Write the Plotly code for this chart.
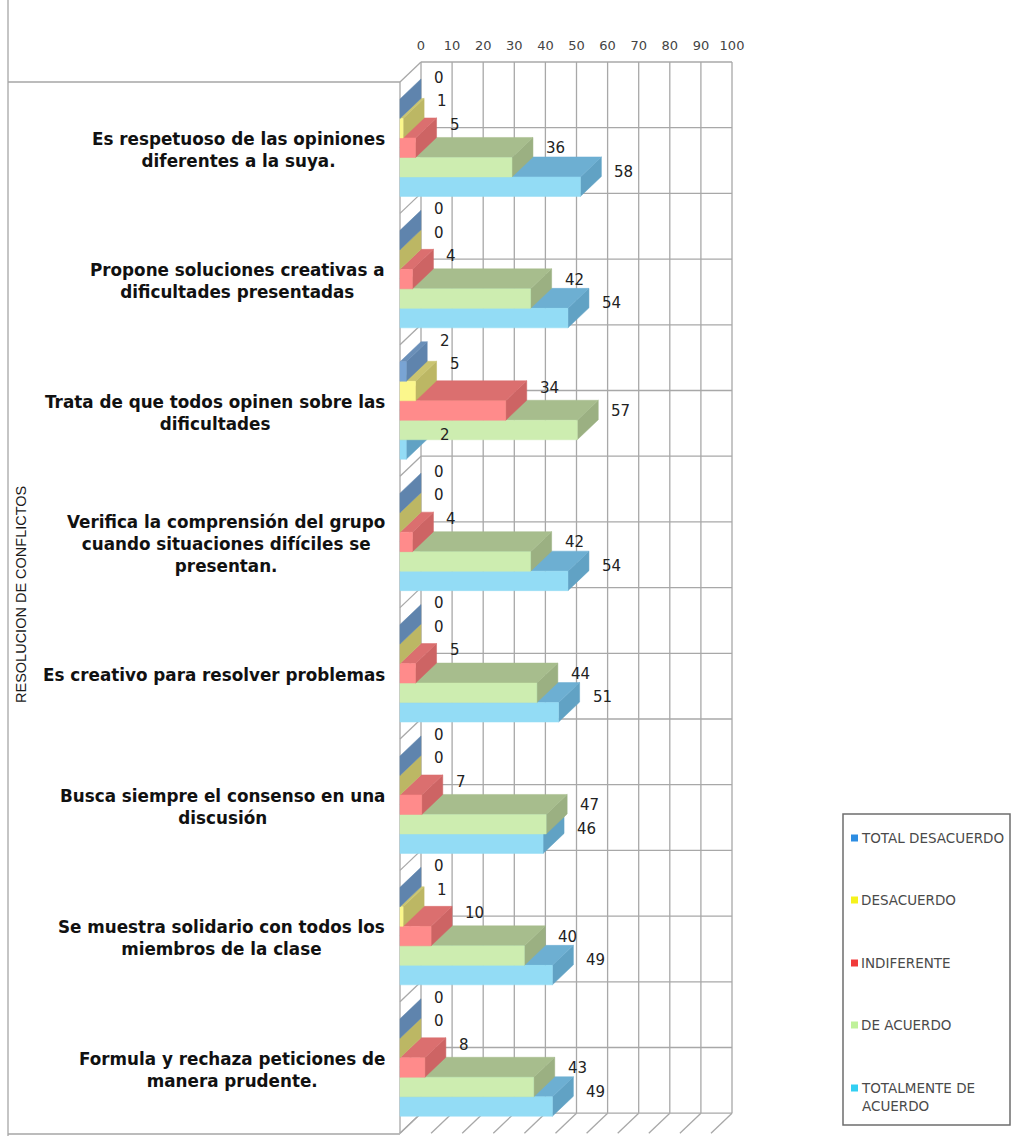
import textwrap
import plotly.graph_objects as go

# ---- data -------------------------------------------------------------
categories = [
    "Es respetuoso de las opiniones<br>diferentes a la suya.",
    "Propone soluciones creativas a<br>dificultades presentadas",
    "Trata de que todos opinen sobre las<br>dificultades",
    "Verifica la comprensión del grupo<br>cuando situaciones difíciles se<br>presentan.",
    "Es creativo para resolver problemas",
    "Busca siempre el consenso en una<br>discusión",
    "Se muestra solidario con todos los<br>miembros de la clase",
    "Formula y rechaza peticiones de<br>manera prudente.",
]
series_names = ["TOTAL DESACUERDO", "DESACUERDO", "INDIFERENTE",
                "DE ACUERDO", "TOTALMENTE DE ACUERDO"]
total_desacuerdo = [0, 0, 2, 0, 0, 0, 0, 0]
desacuerdo = [1, 0, 5, 0, 0, 0, 1, 0]
indiferente = [5, 4, 34, 4, 5, 7, 10, 8]
de_acuerdo = [36, 42, 57, 42, 44, 47, 40, 43]
totalmente_de_acuerdo = [58, 54, 2, 54, 51, 46, 49, 49]
value_ticks = list(range(0, 101, 10))
group_title = "RESOLUCION DE CONFLICTOS"

series_values = [total_desacuerdo, desacuerdo, indiferente,
                 de_acuerdo, totalmente_de_acuerdo]

# ---- styling ----------------------------------------------------------
# (front, top, side) face colours for each series
face_colors = [
    ("#79a4d4", "#6a8fb8", "#5f84ad"),
    ("#fbf78c", "#c9c470", "#bcb764"),
    ("#ff8b8b", "#db6f6f", "#cd6464"),
    ("#cdedb0", "#a7bd8d", "#9bb082"),
    ("#93dcf5", "#6dafd2", "#61a2c4"),
]
legend_colors = ["#2d8de2", "#f5f21c", "#f03a3a", "#bff19a", "#33cff2"]
grid_color = "#a8a8a8"

# ---- pseudo-3D geometry ---------------------------------------------
FIG_W, FIG_H = 1034, 1142
PX_X = 3.11            # pixels per value unit
PX_Y = 131.4           # pixels per category
DX = 21 / PX_X         # depth offset (value units)
DY = 20 / PX_Y         # depth offset (category units)
BAR_H = 19.5 / PX_Y    # bar thickness
PAD = 4                # pixels of room around the box

ORIGIN_X = 400         # pixel of value 0 on the front plane
TOP_FRONT = 82         # pixel of the front top edge
L = ORIGIN_X - PAD
T = TOP_FRONT - 20 - PAD
W = int(round((100 + DX) * PX_X)) + 2 * PAD
H = int(round((len(categories) + DY) * PX_Y)) + 2 * PAD
R = FIG_W - L - W
B = FIG_H - T - H

x_range = [-PAD / PX_X, (W - PAD) / PX_X]
y_top = -0.5 - DY - PAD / PX_Y
y_range = [y_top + H / PX_Y, y_top]


def paper_x(px):
    return (px - L) / W


def paper_y(py):
    return (T + H - py) / H


fig = go.Figure()

n = len(categories)
for s in reversed(range(len(series_values))):
    vals = series_values[s]
    front_x, front_y, top_x, top_y, side_x, side_y = [], [], [], [], [], []
    for i, v in enumerate(vals):
        top = i - 2.5 * BAR_H + s * BAR_H
        bot = top + BAR_H
        # right end face (also the sliver drawn for zero values)
        side_x += [v, v + DX, v + DX, v, v, None]
        side_y += [top, top - DY, bot - DY, bot, top, None]
        if v > 0:
            top_x += [0, v, v + DX, DX, 0, None]
            top_y += [top, top, top - DY, top - DY, top, None]
            front_x += [0, v, v, 0, 0, None]
            front_y += [top, top, bot, bot, top, None]
    fc, tc, sc = face_colors[s]
    for xs, ys, col in ((side_x, side_y, sc), (top_x, top_y, tc),
                        (front_x, front_y, fc)):
        if not xs:
            continue
        fig.add_trace(go.Scatter(
            x=xs, y=ys, mode="lines", fill="toself", fillcolor=col,
            line=dict(color=col, width=0.5), hoverinfo="skip",
            showlegend=False, name=series_names[s]))

# ---- walls and gridlines ---------------------------------------------
shapes = []
grid = dict(color=grid_color, width=1.3)
back_top = -0.5 - DY
back_bot = n - 0.5 - DY
for v in value_ticks:
    shapes.append(dict(type="line", xref="x", yref="y", layer="below",
                       x0=v + DX, x1=v + DX, y0=back_top, y1=back_bot, line=grid))
    shapes.append(dict(type="line", xref="x", yref="y", layer="below",
                       x0=v + DX, x1=v, y0=back_bot, y1=n - 0.5, line=grid))
k = 0
while back_top + k * 0.5 <= back_bot + 1e-9:
    yk = back_top + k * 0.5
    shapes.append(dict(type="line", xref="x", yref="y", layer="below",
                       x0=DX, x1=100 + DX, y0=yk, y1=yk, line=grid))
    shapes.append(dict(type="line", xref="x", yref="y", layer="below",
                       x0=DX, x1=0, y0=yk, y1=yk + DY, line=grid))
    k += 1
shapes.append(dict(type="line", xref="x", yref="y", layer="below",
                   x0=0, x1=0, y0=-0.5, y1=n - 0.5, line=grid))

# frame around the category labels
frame = dict(color="#a6a6a6", width=1.3)
shapes.append(dict(type="line", xref="paper", yref="paper",
                   x0=paper_x(8), x1=paper_x(8), y0=paper_y(0), y1=paper_y(1136),
                   line=frame))
shapes.append(dict(type="line", xref="paper", yref="paper",
                   x0=paper_x(8), x1=paper_x(ORIGIN_X), y0=paper_y(TOP_FRONT),
                   y1=paper_y(TOP_FRONT), line=frame))
shapes.append(dict(type="line", xref="paper", yref="paper",
                   x0=paper_x(8), x1=paper_x(ORIGIN_X), y0=paper_y(1134),
                   y1=paper_y(1134), line=frame))

# ---- legend box --------------------------------------------------------
shapes.append(dict(type="rect", xref="paper", yref="paper",
                   x0=paper_x(843), x1=paper_x(1010), y0=paper_y(1125),
                   y1=paper_y(814), line=dict(color="#6e6e6e", width=1.5)))
annotations = []
legend_rows = [838, 900, 963, 1025, 1088]
line_h = 18
for name, col, yc in zip(series_names, legend_colors, legend_rows):
    shapes.append(dict(type="rect", xref="paper", yref="paper",
                       x0=paper_x(851), x1=paper_x(858), y0=paper_y(yc + 3.5),
                       y1=paper_y(yc - 3.5), line=dict(width=0), fillcolor=col))
    lines = textwrap.wrap(name, 16)
    annotations.append(dict(
        text="<br>".join(lines), xref="paper", yref="paper",
        x=paper_x(859), y=paper_y(yc + (len(lines) - 1) * line_h / 2),
        xanchor="left", yanchor="middle", align="left", showarrow=False,
        font=dict(family="DejaVu Sans", size=13.5, color="#4a4a4a")))

# ---- category labels ---------------------------------------------------
for i, cat in enumerate(categories):
    annotations.append(dict(
        text=cat, xref="paper", yref="y", x=paper_x(387), y=i + 2 / PX_Y,
        xanchor="right", yanchor="middle", align="center", showarrow=False,
        font=dict(family="DejaVu Sans", size=16.8, color="#111111",
                  weight="bold")))

# ---- value labels ------------------------------------------------------
for s, vals in enumerate(series_values):
    for i, v in enumerate(vals):
        annotations.append(dict(
            text=str(v), xref="x", yref="y",
            x=v + DX + 11 / PX_X, y=i + ((s - 2) * 23.5 - 23) / PX_Y,
            xanchor="left", yanchor="middle", showarrow=False,
            font=dict(family="DejaVu Sans", size=15, color="#222222")))

# rotated group title
annotations.append(dict(
    text=group_title, xref="paper", yref="paper", x=paper_x(21),
    y=paper_y(595), textangle=-90, showarrow=False,
    xanchor="center", yanchor="middle",
    font=dict(family="Liberation Sans", size=14.5, color="#1a1a1a")))

fig.update_layout(
    width=FIG_W, height=FIG_H,
    margin=dict(l=L, r=R, t=T, b=B, pad=0),
    paper_bgcolor="white", plot_bgcolor="white",
    showlegend=False,
    shapes=shapes, annotations=annotations,
    xaxis=dict(range=x_range, side="top", showgrid=False, zeroline=False,
               showline=False, ticks="", ticklabelstandoff=4,
               tickvals=[v + DX for v in value_ticks],
               ticktext=[str(v) for v in value_ticks],
               tickfont=dict(family="DejaVu Sans", size=13, color="#444444"),
               fixedrange=True),
    yaxis=dict(range=y_range, visible=False, fixedrange=True),
)

fig.write_html("out.html")
